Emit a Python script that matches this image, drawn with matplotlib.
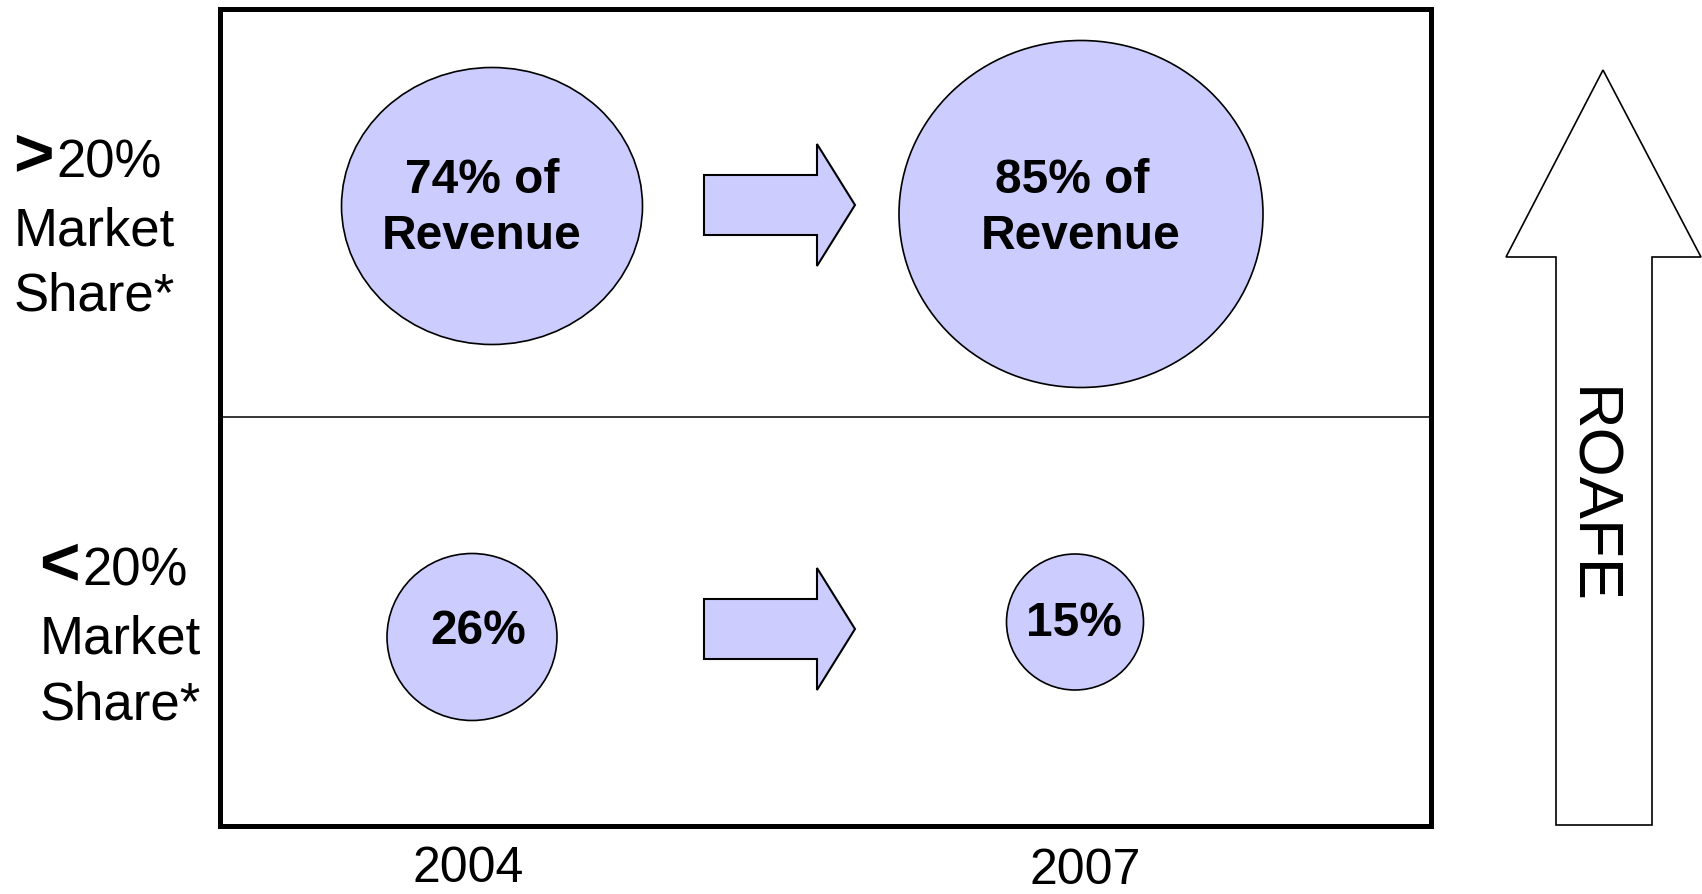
import matplotlib
matplotlib.use("Agg")
import matplotlib.pyplot as plt
from matplotlib.patches import Ellipse, Polygon, Rectangle

plt.rcParams['font.family'] = ['Liberation Sans', 'DejaVu Sans']

# data
years = ["2004", "2007"]
segments = [">20%", "<20%"]
share_big = [74, 85]      # % of revenue, >20% market share
share_small = [26, 15]    # % of revenue, <20% market share
axis_label = "ROAFE"

# layout (pixels, y down)
W, H = 1702, 895
FILL = "#ccccff"

fig = plt.figure(figsize=(W / 100, H / 100), dpi=100)
ax = fig.add_axes([0, 0, 1, 1])
ax.set_xlim(0, W)
ax.set_ylim(H, 0)
ax.axis("off")

# main box + divider
ax.add_patch(Rectangle((220, 10), 1211, 817, fill=False, ec="black", lw=3.6))
ax.plot([220, 1431], [418, 418], color="black", lw=1.1)

# bubbles: (cx, cy, w, h)
big_geo = [(492, 207, 301, 277), (1081, 215, 364, 347)]
small_geo = [(472, 638, 170, 167), (1075, 623, 137, 136)]

for (cx, cy, w, h), v, tx in zip(big_geo, share_big, [(482, 482), (1072, 1081)]):
    ax.add_patch(Ellipse((cx, cy), w, h, fc=FILL, ec="black", lw=1.2))
    ax.text(tx[0], 180, f"{v}% of", ha="center", va="center",
            fontsize=34.5, fontweight="bold")
    ax.text(tx[1], 236, "Revenue", ha="center", va="center",
            fontsize=34.5, fontweight="bold")

for (cx, cy, w, h), v, ty in zip(small_geo, share_small, [(478, 632), (1074, 624)]):
    ax.add_patch(Ellipse((cx, cy), w, h, fc=FILL, ec="black", lw=1.2))
    ax.text(ty[0], ty[1], f"{v}%", ha="center", va="center",
            fontsize=34.5, fontweight="bold")


def right_arrow(x0, xh, x1, yc, bh, hh):
    return [(x0, yc - bh), (xh, yc - bh), (xh, yc - hh), (x1, yc),
            (xh, yc + hh), (xh, yc + bh), (x0, yc + bh)]


for yc in [206, 630]:
    ax.add_patch(Polygon(right_arrow(704, 817, 855, yc, 30, 61),
                         closed=True, fc=FILL, ec="black", lw=1.5))

# ROAFE up arrow
up = [(1556, 826), (1556, 258), (1506, 258), (1603, 71), (1701, 258),
      (1652, 258), (1652, 826)]
ax.add_patch(Polygon(up, closed=True, fc="white", ec="black", lw=1.2))
ax.text(1590, 496, axis_label, rotation=-90, ha="center", va="center",
        fontsize=45.5)

# row labels
for seg, x0, y0 in zip(segments, [14, 40], [177, 586]):
    ax.text(x0 - 1, y0 - 1, seg[0], ha="left", va="baseline", fontsize=50,
            fontweight="bold")
    ax.text(x0 + 42, y0, seg[1:], ha="left", va="baseline", fontsize=38)
    ax.text(x0, y0 + 68, "Market", ha="left", va="baseline", fontsize=38)
    ax.text(x0, y0 + 133, "Share*", ha="left", va="baseline", fontsize=38)

# year labels
for yr, x, y in zip(years, [468, 1085], [869, 871]):
    ax.text(x, y, yr, ha="center", va="center", fontsize=36)

fig.savefig("out.png", dpi=100)
